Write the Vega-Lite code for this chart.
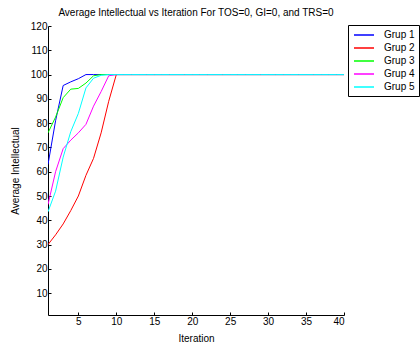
{
  "$schema": "https://vega.github.io/schema/vega-lite/v6.json",
  "autosize": "none",
  "width": 296,
  "height": 289,
  "padding": {"left": 48, "top": 26, "right": 76, "bottom": 33},
  "background": "white",
  "title": {
    "text": "Average Intellectual vs Iteration For TOS=0, GI=0, and TRS=0",
    "font": "Liberation Sans",
    "fontSize": 10,
    "fontWeight": "normal",
    "color": "#000",
    "anchor": "middle",
    "offset": 3
  },
  "data": {
    "values": [
      {"Iteration": 1, "Grup 1": 63, "Grup 2": 30, "Grup 3": 76, "Grup 4": 46.5, "Grup 5": 43.5},
      {"Iteration": 2, "Grup 1": 81, "Grup 2": 34, "Grup 3": 82.5, "Grup 4": 60, "Grup 5": 52},
      {"Iteration": 3, "Grup 1": 95.5, "Grup 2": 38.5, "Grup 3": 90.5, "Grup 4": 69.5, "Grup 5": 66},
      {"Iteration": 4, "Grup 1": 97, "Grup 2": 44, "Grup 3": 94, "Grup 4": 73, "Grup 5": 76.5},
      {"Iteration": 5, "Grup 1": 98.3, "Grup 2": 50, "Grup 3": 94.3, "Grup 4": 76, "Grup 5": 84},
      {"Iteration": 6, "Grup 1": 100, "Grup 2": 58.5, "Grup 3": 96.5, "Grup 4": 79.5, "Grup 5": 94.5},
      {"Iteration": 7, "Grup 1": 100, "Grup 2": 65.5, "Grup 3": 99.5, "Grup 4": 87, "Grup 5": 98.5},
      {"Iteration": 8, "Grup 1": 100, "Grup 2": 76, "Grup 3": 100, "Grup 4": 93, "Grup 5": 99.7},
      {"Iteration": 9, "Grup 1": 100, "Grup 2": 89, "Grup 3": 100, "Grup 4": 99.5, "Grup 5": 100},
      {"Iteration": 10, "Grup 1": 100, "Grup 2": 100, "Grup 3": 100, "Grup 4": 100, "Grup 5": 100},
      {"Iteration": 11, "Grup 1": 100, "Grup 2": 100, "Grup 3": 100, "Grup 4": 100, "Grup 5": 100},
      {"Iteration": 12, "Grup 1": 100, "Grup 2": 100, "Grup 3": 100, "Grup 4": 100, "Grup 5": 100},
      {"Iteration": 13, "Grup 1": 100, "Grup 2": 100, "Grup 3": 100, "Grup 4": 100, "Grup 5": 100},
      {"Iteration": 14, "Grup 1": 100, "Grup 2": 100, "Grup 3": 100, "Grup 4": 100, "Grup 5": 100},
      {"Iteration": 15, "Grup 1": 100, "Grup 2": 100, "Grup 3": 100, "Grup 4": 100, "Grup 5": 100},
      {"Iteration": 16, "Grup 1": 100, "Grup 2": 100, "Grup 3": 100, "Grup 4": 100, "Grup 5": 100},
      {"Iteration": 17, "Grup 1": 100, "Grup 2": 100, "Grup 3": 100, "Grup 4": 100, "Grup 5": 100},
      {"Iteration": 18, "Grup 1": 100, "Grup 2": 100, "Grup 3": 100, "Grup 4": 100, "Grup 5": 100},
      {"Iteration": 19, "Grup 1": 100, "Grup 2": 100, "Grup 3": 100, "Grup 4": 100, "Grup 5": 100},
      {"Iteration": 20, "Grup 1": 100, "Grup 2": 100, "Grup 3": 100, "Grup 4": 100, "Grup 5": 100},
      {"Iteration": 21, "Grup 1": 100, "Grup 2": 100, "Grup 3": 100, "Grup 4": 100, "Grup 5": 100},
      {"Iteration": 22, "Grup 1": 100, "Grup 2": 100, "Grup 3": 100, "Grup 4": 100, "Grup 5": 100},
      {"Iteration": 23, "Grup 1": 100, "Grup 2": 100, "Grup 3": 100, "Grup 4": 100, "Grup 5": 100},
      {"Iteration": 24, "Grup 1": 100, "Grup 2": 100, "Grup 3": 100, "Grup 4": 100, "Grup 5": 100},
      {"Iteration": 25, "Grup 1": 100, "Grup 2": 100, "Grup 3": 100, "Grup 4": 100, "Grup 5": 100},
      {"Iteration": 26, "Grup 1": 100, "Grup 2": 100, "Grup 3": 100, "Grup 4": 100, "Grup 5": 100},
      {"Iteration": 27, "Grup 1": 100, "Grup 2": 100, "Grup 3": 100, "Grup 4": 100, "Grup 5": 100},
      {"Iteration": 28, "Grup 1": 100, "Grup 2": 100, "Grup 3": 100, "Grup 4": 100, "Grup 5": 100},
      {"Iteration": 29, "Grup 1": 100, "Grup 2": 100, "Grup 3": 100, "Grup 4": 100, "Grup 5": 100},
      {"Iteration": 30, "Grup 1": 100, "Grup 2": 100, "Grup 3": 100, "Grup 4": 100, "Grup 5": 100},
      {"Iteration": 31, "Grup 1": 100, "Grup 2": 100, "Grup 3": 100, "Grup 4": 100, "Grup 5": 100},
      {"Iteration": 32, "Grup 1": 100, "Grup 2": 100, "Grup 3": 100, "Grup 4": 100, "Grup 5": 100},
      {"Iteration": 33, "Grup 1": 100, "Grup 2": 100, "Grup 3": 100, "Grup 4": 100, "Grup 5": 100},
      {"Iteration": 34, "Grup 1": 100, "Grup 2": 100, "Grup 3": 100, "Grup 4": 100, "Grup 5": 100},
      {"Iteration": 35, "Grup 1": 100, "Grup 2": 100, "Grup 3": 100, "Grup 4": 100, "Grup 5": 100},
      {"Iteration": 36, "Grup 1": 100, "Grup 2": 100, "Grup 3": 100, "Grup 4": 100, "Grup 5": 100},
      {"Iteration": 37, "Grup 1": 100, "Grup 2": 100, "Grup 3": 100, "Grup 4": 100, "Grup 5": 100},
      {"Iteration": 38, "Grup 1": 100, "Grup 2": 100, "Grup 3": 100, "Grup 4": 100, "Grup 5": 100},
      {"Iteration": 39, "Grup 1": 100, "Grup 2": 100, "Grup 3": 100, "Grup 4": 100, "Grup 5": 100},
      {"Iteration": 40, "Grup 1": 100, "Grup 2": 100, "Grup 3": 100, "Grup 4": 100, "Grup 5": 100}
    ]
  },
  "transform": [
    {"fold": ["Grup 1", "Grup 2", "Grup 3", "Grup 4", "Grup 5"], "as": ["Group", "Value"]}
  ],
  "mark": {"type": "line", "strokeWidth": 1, "clip": true},
  "encoding": {
    "x": {
      "field": "Iteration",
      "type": "quantitative",
      "scale": {"domain": [1, 40], "nice": false, "zero": false},
      "axis": {"values": [5, 10, 15, 20, 25, 30, 35, 40], "title": "Iteration", "titlePadding": 7, "labelPadding": 4}
    },
    "y": {
      "field": "Value",
      "type": "quantitative",
      "scale": {"domain": [1, 120], "nice": false, "zero": false},
      "axis": {"values": [10, 20, 30, 40, 50, 60, 70, 80, 90, 100, 110, 120], "title": "Average Intellectual", "titlePadding": 10, "labelPadding": 4}
    },
    "color": {
      "field": "Group",
      "type": "nominal",
      "scale": {
        "domain": ["Grup 1", "Grup 2", "Grup 3", "Grup 4", "Grup 5"],
        "range": ["#0000ff", "#ff0000", "#00ff00", "#ff00ff", "#00ffff"]
      },
      "legend": {
        "title": null,
        "orient": "none",
        "legendX": 300,
        "legendY": -1,
        "padding": 4,
        "strokeColor": "#000",
        "fillColor": "#fff",
        "symbolType": "M-2,0H2",
        "symbolSize": 100,
        "symbolStrokeWidth": 1.5,
        "symbolOffset": 6,
        "labelOffset": 14,
        "labelFont": "Liberation Sans",
        "labelFontSize": 10,
        "labelColor": "#000",
        "rowPadding": 2
      }
    }
  },
  "config": {
    "view": {"stroke": null},
    "axis": {
      "grid": false,
      "domainColor": "#000",
      "domainWidth": 1,
      "tickColor": "#000",
      "tickSize": -3,
      "labelColor": "#000",
      "titleColor": "#000",
      "labelFont": "Liberation Sans",
      "titleFont": "Liberation Sans",
      "labelFontSize": 10,
      "titleFontSize": 10,
      "titleFontWeight": "normal"
    }
  }
}
